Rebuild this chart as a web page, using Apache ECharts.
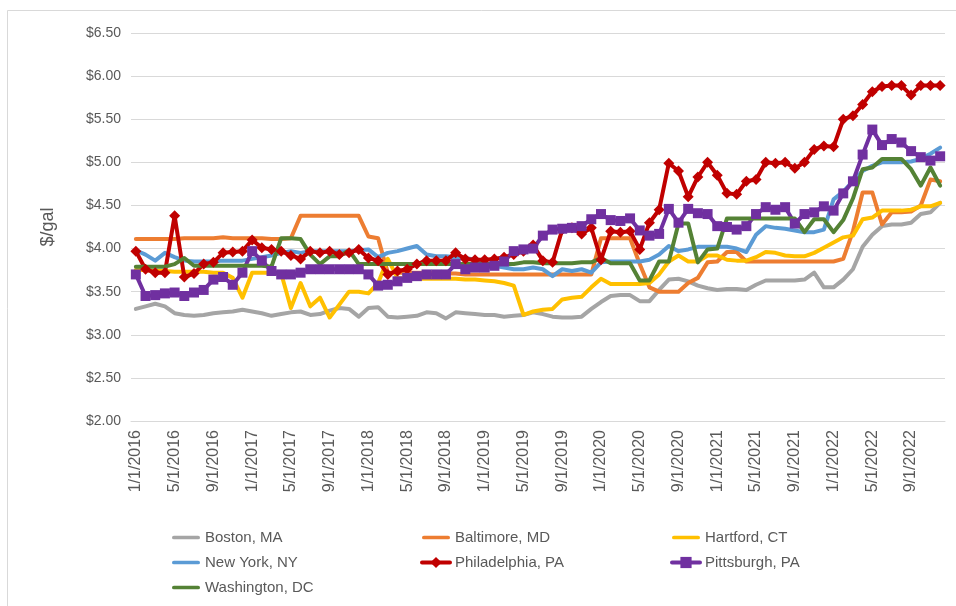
<!DOCTYPE html>
<html>
<head>
<meta charset="utf-8">
<script src="https://cdn.jsdelivr.net/npm/echarts@6/dist/echarts.min.js"></script>
<style>
    html, body { margin: 0; padding: 0; background: #ffffff; }
    #chart { width: 956px; height: 606px; }
</style>
</head>
<body>
<div id="chart"></div>
<script>
// 月份 1/2016 .. 12/2022
const years = [2016, 2017, 2018, 2019, 2020, 2021, 2022];
const months = [1, 2, 3, 4, 5, 6, 7, 8, 9, 10, 11, 12];

const boston = [
    3.30, 3.33, 3.36, 3.33, 3.25, 3.23, 3.22, 3.23, 3.25, 3.26, 3.27, 3.29,
    3.27, 3.25, 3.22, 3.24, 3.26, 3.27, 3.23, 3.24, 3.28, 3.31, 3.30, 3.21,
    3.31, 3.32, 3.21, 3.20, 3.21, 3.22, 3.26, 3.25, 3.19, 3.26, 3.25, 3.24,
    3.23, 3.23, 3.21, 3.22, 3.23, 3.26, 3.24, 3.21, 3.20, 3.20, 3.21, 3.30,
    3.38, 3.45, 3.46, 3.46, 3.39, 3.39, 3.52, 3.64, 3.65, 3.62, 3.57, 3.54,
    3.52, 3.53, 3.53, 3.52, 3.58, 3.63, 3.63, 3.63, 3.63, 3.64, 3.72, 3.55,
    3.55, 3.64, 3.76, 4.02, 4.16, 4.26, 4.28, 4.28, 4.30, 4.40, 4.42, 4.53
];
const baltimore = [
    4.11, 4.11, 4.11, 4.11, 4.11, 4.12, 4.12, 4.12, 4.12, 4.13, 4.12, 4.12,
    4.12, 4.12, 4.11, 4.11, 4.12, 4.38, 4.38, 4.38, 4.38, 4.38, 4.38, 4.38,
    4.14, 4.12, 3.72, 3.72, 3.72, 3.72, 3.72, 3.72, 3.71, 3.71, 3.70, 3.70,
    3.70, 3.70, 3.70, 3.70, 3.70, 3.70, 3.70, 3.70, 3.70, 3.70, 3.70, 3.70,
    4.12, 4.12, 4.12, 4.12, 3.82, 3.55, 3.50, 3.50, 3.50, 3.60, 3.66, 3.84,
    3.85, 3.96, 3.96, 3.85, 3.85, 3.85, 3.85, 3.85, 3.85, 3.85, 3.85, 3.85,
    3.85, 3.88, 4.20, 4.65, 4.65, 4.28, 4.42, 4.42, 4.43, 4.50, 4.80, 4.78
];
const hartford = [
    3.75, 3.75, 3.74, 3.74, 3.73, 3.73, 3.73, 3.73, 3.72, 3.72, 3.66, 3.43,
    3.72, 3.72, 3.72, 3.71, 3.31, 3.60, 3.33, 3.43, 3.20, 3.35, 3.50, 3.50,
    3.48, 3.60, 3.88, 3.66, 3.65, 3.65, 3.65, 3.65, 3.65, 3.65, 3.64, 3.64,
    3.63, 3.62, 3.60, 3.57, 3.23, 3.27, 3.29, 3.30, 3.41, 3.43, 3.44, 3.55,
    3.65, 3.59, 3.59, 3.59, 3.59, 3.60, 3.70, 3.85, 3.92, 3.85, 3.85, 3.92,
    3.92, 3.87, 3.86, 3.86, 3.90, 3.96, 3.95, 3.92, 3.91, 3.91, 3.95, 4.01,
    4.07, 4.13, 4.15, 4.34, 4.36, 4.44, 4.44, 4.44, 4.45, 4.49, 4.49, 4.53
];
const newYork = [
    3.98, 3.93, 3.86, 3.95, 3.90, 3.86, 3.85, 3.85, 3.85, 3.86, 3.86, 3.86,
    3.88, 3.90, 3.92, 3.95, 3.97, 3.95, 3.97, 3.97, 3.97, 3.97, 3.97, 3.98,
    3.99, 3.90, 3.95, 3.97, 4.00, 4.03, 3.93, 3.91, 3.91, 3.90, 3.89, 3.87,
    3.82, 3.80, 3.78, 3.76, 3.76, 3.78, 3.76, 3.68, 3.76, 3.74, 3.76, 3.72,
    3.84, 3.85, 3.85, 3.85, 3.85, 3.87, 3.93, 4.03, 3.97, 3.99, 4.02, 4.02,
    4.02, 4.02, 4.00, 3.96, 4.16, 4.26, 4.24, 4.23, 4.21, 4.19, 4.19, 4.22,
    4.57, 4.66, 4.78, 4.90, 4.96, 5.00, 5.00, 5.00, 5.01, 5.04, 5.10, 5.17
];
const philadelphia = [
    3.97, 3.76, 3.72, 3.72, 4.38, 3.67, 3.71, 3.82, 3.84, 3.95, 3.96, 3.97,
    4.10, 4.01, 3.99, 3.97, 3.92, 3.88, 3.97, 3.95, 3.97, 3.93, 3.95, 3.99,
    3.89, 3.86, 3.70, 3.74, 3.76, 3.82, 3.86, 3.86, 3.86, 3.95, 3.88, 3.87,
    3.87, 3.88, 3.90, 3.93, 3.97, 4.04, 3.86, 3.84, 4.22, 4.24, 4.17, 4.24,
    3.87, 4.20, 4.19, 4.20, 3.99, 4.30, 4.45, 4.99, 4.90, 4.60, 4.83, 5.00,
    4.85, 4.64, 4.63, 4.78, 4.80, 5.00, 4.99, 5.00, 4.93, 5.00, 5.15, 5.19,
    5.18, 5.50, 5.54, 5.67, 5.82, 5.88, 5.89, 5.89, 5.78, 5.89, 5.89, 5.89
];
const pittsburgh = [
    3.70, 3.45, 3.46, 3.48, 3.49, 3.45, 3.49, 3.52, 3.64, 3.67, 3.58, 3.72,
    3.97, 3.86, 3.74, 3.70, 3.70, 3.72, 3.76, 3.76, 3.76, 3.76, 3.76, 3.76,
    3.70, 3.57, 3.58, 3.62, 3.66, 3.68, 3.70, 3.70, 3.70, 3.82, 3.76, 3.78,
    3.78, 3.80, 3.85, 3.97, 3.99, 4.00, 4.15, 4.22, 4.23, 4.24, 4.26, 4.34,
    4.40, 4.33, 4.32, 4.35, 4.21, 4.15, 4.17, 4.46, 4.30, 4.46, 4.41, 4.40,
    4.26, 4.25, 4.22, 4.26, 4.40, 4.48, 4.45, 4.48, 4.29, 4.40, 4.42, 4.49,
    4.44, 4.64, 4.78, 5.09, 5.38, 5.20, 5.27, 5.23, 5.13, 5.06, 5.02, 5.07
];
const washington = [
    3.79, 3.79, 3.79, 3.79, 3.82, 3.89, 3.80, 3.80, 3.80, 3.80, 3.80, 3.80,
    3.80, 3.80, 3.79, 4.12, 4.12, 4.11, 3.93, 3.82, 3.91, 3.91, 3.98, 3.82,
    3.82, 3.82, 3.82, 3.82, 3.82, 3.82, 3.82, 3.82, 3.82, 3.82, 3.82, 3.82,
    3.82, 3.82, 3.82, 3.82, 3.84, 3.84, 3.83, 3.83, 3.83, 3.83, 3.84, 3.84,
    3.89, 3.83, 3.83, 3.83, 3.63, 3.63, 3.85, 3.85, 4.29, 4.29, 3.84, 3.99,
    4.00, 4.35, 4.35, 4.35, 4.35, 4.35, 4.35, 4.35, 4.35, 4.19, 4.34, 4.34,
    4.19, 4.33, 4.58, 4.92, 4.94, 5.04, 5.04, 5.04, 4.92, 4.73, 4.94, 4.73
];

const names = ["Boston, MA", "Baltimore, MD", "Hartford, CT", "New York, NY",
    "Philadelphia, PA", "Pittsburgh, PA", "Washington, DC"];
const colors = ["#A5A5A5", "#ED7D31", "#FFC000", "#5B9BD5", "#C00000", "#7030A0", "#548235"];
const values = [boston, baltimore, hartford, newYork, philadelphia, pittsburgh, washington];
const symbols = ["none", "none", "none", "none", "diamond", "rect", "none"];

const categories = [];
years.forEach(y => months.forEach(m => categories.push(m + "/1/" + y)));

const textColor = "#595959";
const font = "Liberation Sans";
// 图例里的粗线 (M 点撑开图标框, 线条居中)
const lineIcon = "path://M0,0 M28,14 M1,5 L27,5 A2,2 0 0 1 27,9 L1,9 A2,2 0 0 1 1,5 Z";

const series = names.map((name, i) => ({
    name,
    type: "line",
    data: values[i],
    symbol: symbols[i],
    symbolSize: symbols[i] === "diamond" ? 11 : 10,
    showSymbol: symbols[i] !== "none",
    showAllSymbol: true,
    lineStyle: { color: colors[i], width: 4, cap: "round", join: "round" },
    itemStyle: { color: colors[i], borderWidth: 0 },
    silent: true
}));

const legendItem = i => (symbols[i] === "none" ? { name: names[i], icon: lineIcon } : { name: names[i] });

// 图例分三列
const legendBase = {
    orient: "vertical",
    top: 530,
    padding: 0,
    itemWidth: 28,
    itemHeight: 14,
    itemGap: 10,
    lineStyle: { width: 4 },
    textStyle: { color: textColor, fontSize: 15, fontFamily: font },
    selectedMode: false
};
const legend = [
    Object.assign({ left: 172, data: [legendItem(0), legendItem(3), legendItem(6)] }, legendBase),
    Object.assign({ left: 420, data: [legendItem(1), legendItem(4)] }, legendBase),
    Object.assign({ left: 670, data: [legendItem(2), legendItem(5)] }, legendBase)
];

const option = {
    animation: false,
    backgroundColor: "#ffffff",
    color: colors,
    grid: { left: 131, right: 11, top: 33, bottom: 185 },
    xAxis: {
        type: "category",
        data: categories,
        boundaryGap: true,
        axisLine: { show: true, lineStyle: { color: "#d9d9d9", width: 1 } },
        axisTick: { show: false },
        axisLabel: {
            interval: 3,
            rotate: 90,
            margin: 9,
            color: textColor,
            fontSize: 16,
            fontFamily: font
        },
        splitLine: { show: false }
    },
    yAxis: {
        type: "value",
        min: 2,
        max: 6.5,
        interval: 0.5,
        name: "$/gal",
        nameLocation: "middle",
        nameGap: 74,
        nameRotate: 90,
        nameTextStyle: { color: textColor, fontSize: 18, fontFamily: font },
        axisLine: { show: false },
        axisTick: { show: false },
        axisLabel: {
            margin: 10,
            color: textColor,
            fontSize: 14,
            fontFamily: font,
            formatter: v => "$" + v.toFixed(2)
        },
        splitLine: { lineStyle: { color: "#d9d9d9", width: 1 } }
    },
    legend,
    graphic: [
        { type: "line", shape: { x1: 7.5, y1: 10.5, x2: 956, y2: 10.5 }, style: { stroke: "#d9d9d9", lineWidth: 1 } },
        { type: "line", shape: { x1: 7.5, y1: 10.5, x2: 7.5, y2: 606 }, style: { stroke: "#d9d9d9", lineWidth: 1 } }
    ],
    series
};

const dom = echarts.init(document.getElementById("chart"), null, { renderer: "canvas" });
dom.setOption(option);
</script>
</body>
</html>
